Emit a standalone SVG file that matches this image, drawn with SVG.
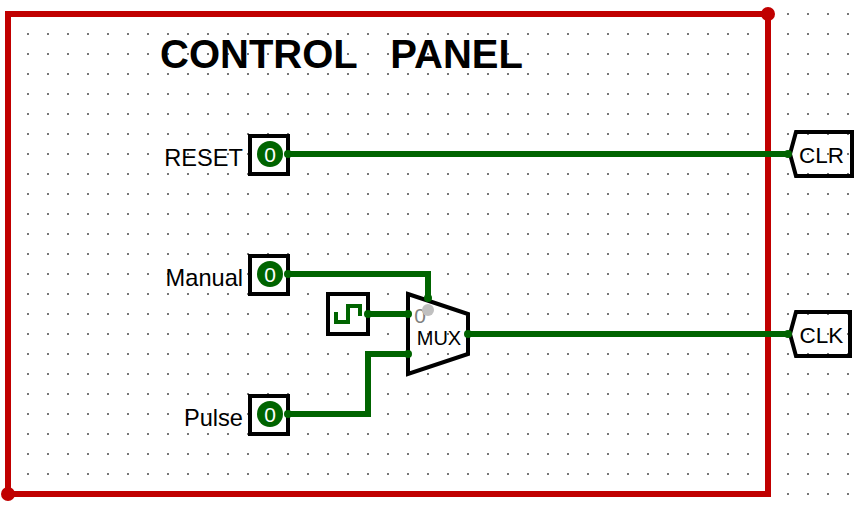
<svg xmlns="http://www.w3.org/2000/svg" width="857" height="507" viewBox="0 0 857 507">
<style>
.lbl{font-family:"Liberation Sans",Arial,sans-serif;font-size:23.6px;fill:#000;text-anchor:end}
.title{font-family:"Liberation Sans",Arial,sans-serif;font-size:40px;font-weight:bold;fill:#000;white-space:pre}
.box{fill:#fff;stroke:#000;stroke-width:4}
.led{fill:#006400}
.ledt{font-family:"Liberation Sans",Arial,sans-serif;font-size:21px;fill:#fff;text-anchor:middle}
.tun{fill:none;stroke:#000;stroke-width:4}
.tunt{font-family:"Liberation Sans",Arial,sans-serif;font-size:22.5px;fill:#000;text-anchor:middle}
.w{fill:none;stroke:#006400;stroke-width:6;stroke-linejoin:miter}
.r{fill:none;stroke:#c00000;stroke-width:6}
.g{fill:#006400}
.rd{fill:#c00000}
</style>
<defs>
<pattern id="grid" x="7" y="13" width="20" height="20" patternUnits="userSpaceOnUse"><rect width="2" height="2" fill="#777"/></pattern>
<g id="ledmark"><circle cx="270" cy="0" r="13" class="led"/><text x="270" y="7.5" class="ledt">0</text></g>
</defs>
<rect width="857" height="507" fill="#fff"/>
<rect x="7" y="13" width="850" height="494" fill="url(#grid)"/>
<text class="title" x="160" y="68">CONTROL   PANEL</text>
<g id="connectors">
<path class="r" d="M8 14H768V494H8Z"/>
<circle class="rd" cx="768" cy="14" r="7"/>
<circle class="rd" cx="8" cy="494" r="7"/>
<path class="w" d="M288 154H788"/>
<path class="w" d="M288 274H428V298"/>
<path class="w" d="M368 314H408"/>
<path class="w" d="M288 414H368V354H408"/>
<path class="w" d="M468 334H788"/>
</g>
<g id="reset"><rect class="box" x="250" y="136" width="38" height="38"/><use href="#ledmark" y="154"/><text class="lbl" x="243" y="166">RESET</text></g>
<g id="manual"><rect class="box" x="250" y="256" width="38" height="38"/><use href="#ledmark" y="274"/><text class="lbl" x="243" y="286">Manual</text></g>
<g id="pulse"><rect class="box" x="250" y="396" width="38" height="38"/><use href="#ledmark" y="414"/><text class="lbl" x="243" y="426">Pulse</text></g>
<g id="clock"><rect class="box" x="328" y="294" width="40" height="40"/><path d="M336 312V322H348V306H360V316" fill="none" stroke="#006400" stroke-width="4"/></g>
<g id="mux"><path d="M408 294L468 314V354L408 374Z" fill="none" stroke="#000" stroke-width="4"/>
<text x="420" y="323" font-family="'Liberation Sans',Arial,sans-serif" font-size="21" fill="#808080" text-anchor="middle">0</text>
<circle cx="428" cy="310" r="6" fill="#c0c0c0"/>
<text x="439" y="345" font-family="'Liberation Sans',Arial,sans-serif" font-size="20" fill="#000" text-anchor="middle">MUX</text></g>
<g id="clr"><path class="tun" d="M796 132H852V176H796L790 154Z"/><text class="tunt" x="821.5" y="163">CLR</text></g>
<g id="clk"><path class="tun" d="M796 312H850V356H796L790 334Z"/><text class="tunt" x="821.5" y="343">CLK</text></g>
<g id="pins">
<circle class="g" cx="288" cy="154" r="4"/><circle class="g" cx="788" cy="154" r="4"/>
<circle class="g" cx="288" cy="274" r="4"/><circle class="g" cx="428" cy="298" r="4"/>
<circle class="g" cx="368" cy="314" r="4"/><circle class="g" cx="408" cy="314" r="4"/>
<circle class="g" cx="288" cy="414" r="4"/><circle class="g" cx="408" cy="354" r="4"/>
<circle class="g" cx="468" cy="334" r="4"/><circle class="g" cx="788" cy="334" r="4"/>
</g>
</svg>
